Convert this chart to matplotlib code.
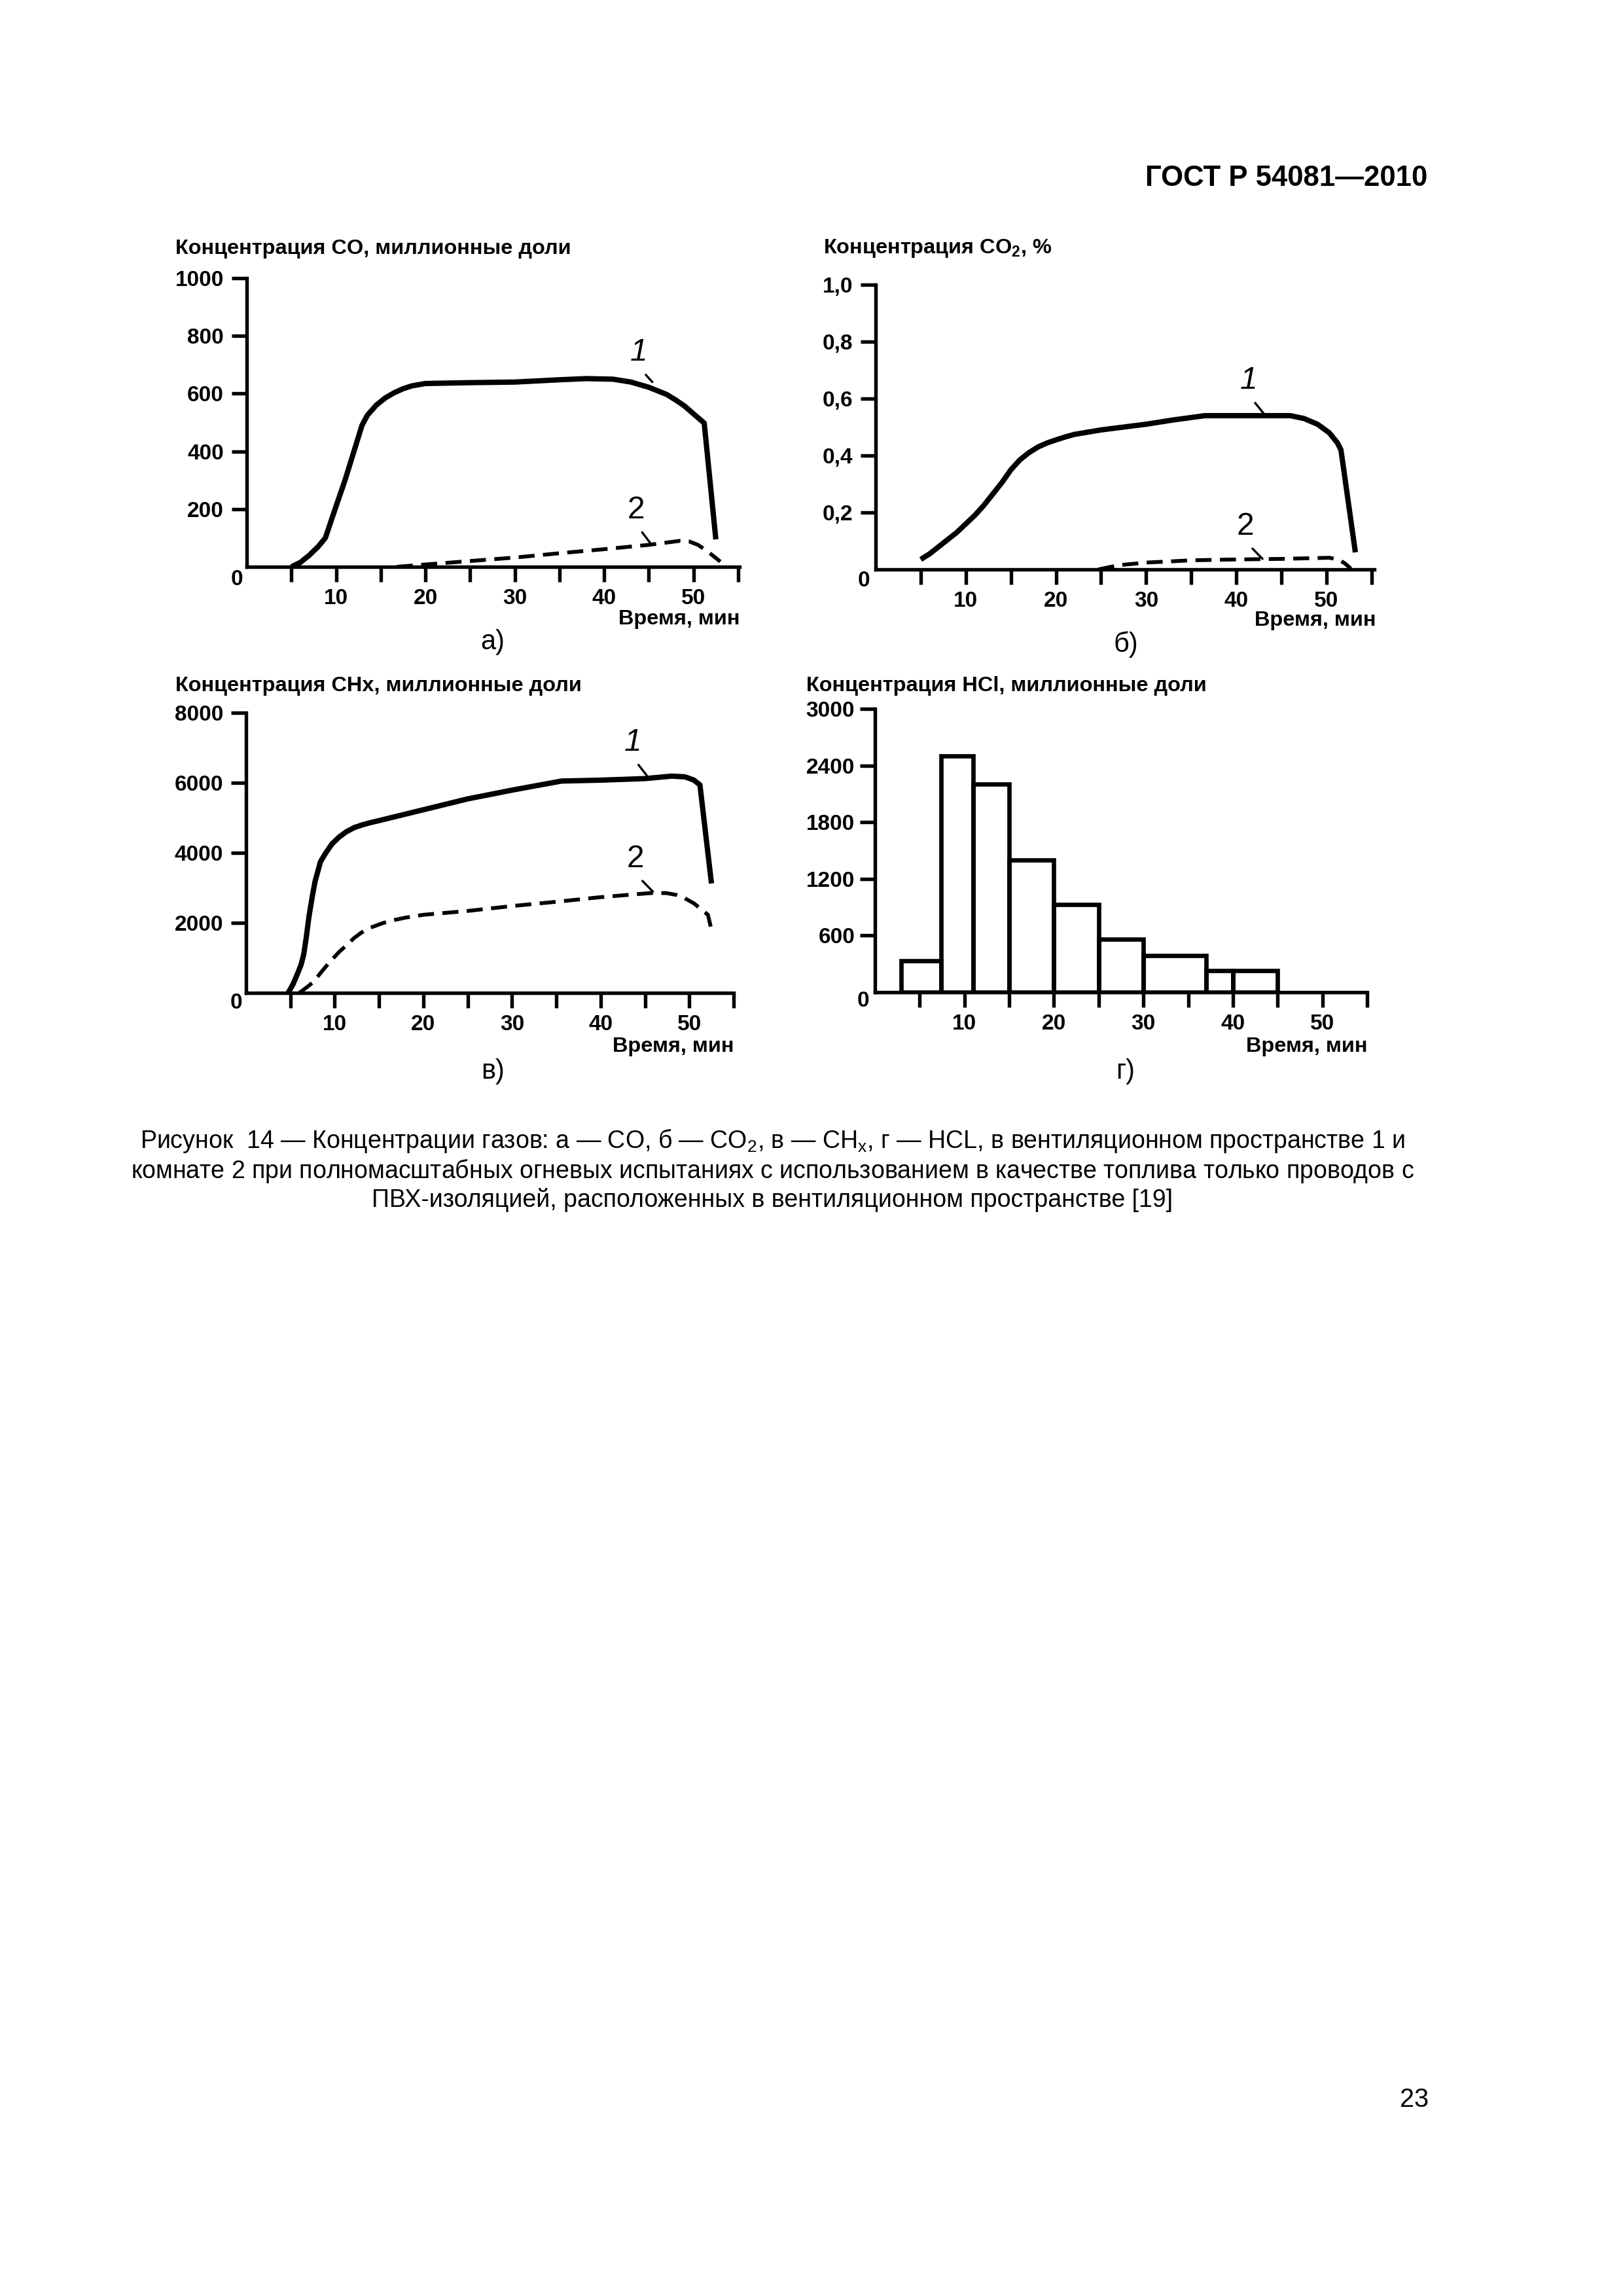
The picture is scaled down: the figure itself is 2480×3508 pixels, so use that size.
import matplotlib
matplotlib.use("Agg")
import matplotlib.pyplot as plt

plt.rcParams['font.family'] = ['Liberation Sans', 'DejaVu Sans']
plt.rcParams['mathtext.fontset'] = 'custom'
plt.rcParams['mathtext.rm'] = 'Liberation Sans'
plt.rcParams['mathtext.it'] = 'Liberation Sans:italic'
plt.rcParams['mathtext.bf'] = 'Liberation Sans:bold'

# --- data ---
x_ticks = [5, 10, 15, 20, 25, 30, 35, 40, 45, 50, 55]
x_tick_labels = ['', '10', '', '20', '', '30', '', '40', '', '50', '']

# a) CO, ppm
co_t1 = [5, 6, 7, 8, 8.8, 10, 11, 12, 12.9, 13.5, 14.5, 15.5, 16.5, 17.5, 18.5, 20, 25, 30,
         35, 38, 41, 43, 45, 47, 48, 49, 50, 51.2, 52.5]
co_v1 = [0, 15, 40, 70, 100, 210, 300, 400, 490, 525, 560, 585, 603, 617, 627, 635, 638, 640,
         648, 652, 650, 640, 622, 597, 578, 557, 530, 498, 95]
co_t2 = [16.8, 20, 25, 30, 35, 40, 45, 48.5, 49.5, 50.5, 51.5, 53]
co_v2 = [0, 8, 20, 32, 47, 61, 76, 90, 88, 76, 55, 18]
co_yticks = [200, 400, 600, 800, 1000]
co_ylabels = ['200', '400', '600', '800', '1000']

# b) CO2, %
co2_t1 = [5, 6, 7, 8, 9, 10, 11, 12, 13, 14, 15, 16, 17, 18, 19, 20, 21, 22, 25, 30, 33,
          36.5, 46, 47.5, 49, 50.3, 51.2, 51.6, 53.2]
co2_v1 = [0.035, 0.055, 0.08, 0.105, 0.13, 0.16, 0.19, 0.225, 0.265, 0.305, 0.35, 0.385,
          0.41, 0.43, 0.444, 0.455, 0.465, 0.474, 0.49, 0.51, 0.525, 0.54, 0.54, 0.53, 0.51,
          0.48, 0.445, 0.42, 0.06]
co2_t2 = [24.7, 27, 30, 35, 40, 45, 49, 50.3, 51.3, 52, 52.7]
co2_v2 = [0, 0.015, 0.024, 0.032, 0.035, 0.037, 0.04, 0.041, 0.035, 0.022, 0.003]
co2_yticks = [0.2, 0.4, 0.6, 0.8, 1.0]
co2_ylabels = ['0,2', '0,4', '0,6', '0,8', '1,0']

# в) CHx, ppm
chx_t1 = [4.75, 5.3, 5.8, 6.2, 6.5, 6.8, 7.1, 7.5, 7.8, 8.4, 9.0, 9.7, 10.5, 11.3, 12.2, 13,
          14, 15, 20, 25, 30, 33, 35.6, 40, 45, 48, 49.5, 50.5, 51.2, 52.5]
chx_v1 = [0, 250, 546, 800, 1093, 1600, 2187, 2800, 3200, 3750, 4000, 4257, 4450, 4600, 4720,
          4790, 4860, 4920, 5230, 5540, 5790, 5930, 6050, 6075, 6120, 6190, 6170, 6080, 5940, 3125]
chx_t2 = [6.0, 6.8, 7.6, 8.5, 9.5, 10.5, 11.5, 12.2, 13, 14, 15.4, 16.5, 18, 20, 25, 30, 35.6,
          40, 45.6, 47.4, 48.5, 49.5, 50.5, 51.2, 52.1, 52.5]
chx_v2 = [0, 150, 312, 600, 900, 1170, 1400, 1570, 1720, 1860, 1990, 2070, 2150, 2230, 2340,
          2480, 2617, 2734, 2850, 2850, 2800, 2700, 2560, 2420, 2230, 1800]
chx_yticks = [2000, 4000, 6000, 8000]
chx_ylabels = ['2000', '4000', '6000', '8000']

# г) HCl, ppm (histogram)
hcl_edges = [2.9, 7.4, 11, 15, 20, 25, 30, 37, 40, 45]
hcl_values = [330, 2500, 2200, 1400, 930, 560, 390, 230, 230]
hcl_yticks = [600, 1200, 1800, 2400, 3000]
hcl_ylabels = ['600', '1200', '1800', '2400', '3000']

W, H = 2480, 3508
fig = plt.figure(figsize=(W / 300, H / 300), dpi=300)


def rect(l, t, r, b):
    return [l / W, 1 - b / H, (r - l) / W, (b - t) / H]


def ftext(x, y, s, **kw):
    fig.text(x / W, 1 - y / H, s, **kw)


def style(ax, xmax, ymax, yticks, ylabels, ypad):
    ax.set_xlim(0, xmax)
    ax.set_ylim(0, ymax)
    ax.spines['top'].set_visible(False)
    ax.spines['right'].set_visible(False)
    ax.spines['left'].set_linewidth(1.3)
    ax.spines['bottom'].set_linewidth(1.3)
    ax.set_xticks(x_ticks)
    ax.set_xticklabels(x_tick_labels, fontweight='bold')
    ax.set_yticks(yticks)
    ax.set_yticklabels(ylabels, fontweight='bold')
    ax.tick_params(axis='x', direction='out', length=5.5, width=1.3, pad=2.5, labelsize=8)
    ax.tick_params(axis='y', direction='out', length=5.5, width=1.3, pad=ypad, labelsize=8)
    ax.patch.set_alpha(0)


def label(ax, s, txy, tip, italic):
    ax.annotate(s, xy=tip, xytext=txy, ha='center', va='center', fontsize=11.5,
                style='italic' if italic else 'normal',
                arrowprops=dict(arrowstyle='-', lw=0.8, color='black',
                                relpos=(0.5, 0.0), shrinkA=1, shrinkB=0))


solid = dict(color='black', lw=1.95, solid_capstyle='butt', solid_joinstyle='round')
dashed = dict(color='black', lw=1.4, ls=(0, (4.2, 2.2)), dash_capstyle='butt')

# a)
ax = fig.add_axes(rect(377, 425, 1130, 866))
style(ax, 55.15, 1000, co_yticks, co_ylabels, 2.9)
ax.plot(co_t1, co_v1, **solid)
ax.plot(co_t2, co_v2, **dashed)
label(ax, '1', (43.9, 742), (45.4, 640), True)
label(ax, '2', (43.6, 197), (45.2, 81), False)

# б)
ax = fig.add_axes(rect(1338, 435, 2100, 870))
style(ax, 55.3, 1.0, co2_yticks, co2_ylabels, 2.9)
ax.plot(co2_t1, co2_v1, **solid)
ax.plot(co2_t2, co2_v2, **dashed)
label(ax, '1', (41.4, 0.663), (43.1, 0.545), True)
label(ax, '2', (41.0, 0.151), (42.9, 0.037), False)

# в)
ax = fig.add_axes(rect(376, 1089, 1121, 1517))
style(ax, 55.0, 8000, chx_yticks, chx_ylabels, 2.9)
ax.plot(chx_t1, chx_v1, **solid)
ax.plot(chx_t2, chx_v2, **dashed)
label(ax, '1', (43.6, 7150), (45.2, 6210), True)
label(ax, '2', (43.9, 3830), (45.9, 2890), False)

# г)
ax = fig.add_axes(rect(1337, 1083, 2089, 1516))
style(ax, 55.0, 3000, hcl_yticks, hcl_ylabels, 1.9)
widths = [hcl_edges[i + 1] - hcl_edges[i] for i in range(len(hcl_values))]
ax.bar(hcl_edges[:-1], hcl_values, width=widths, align='edge', fill=False,
       edgecolor='black', linewidth=1.6, joinstyle='miter')

# axis titles, units, panel letters
title_kw = dict(fontsize=7.8, fontweight='bold', ha='left', va='center')
ftext(268, 380, 'Концентрация CO, миллионные доли', **title_kw)
ftext(1258, 380, 'Концентрация CO$_\\mathbf{2}$, %', **title_kw)
ftext(268, 1048, 'Концентрация CHx, миллионные доли', **title_kw)
ftext(1232, 1048, 'Концентрация HCl, миллионные доли', **title_kw)

unit_kw = dict(fontsize=7.8, fontweight='bold', ha='right', va='center')
ftext(1130, 946, 'Время, мин', **unit_kw)
ftext(2102, 948, 'Время, мин', **unit_kw)
ftext(1121, 1599, 'Время, мин', **unit_kw)
ftext(2089, 1599, 'Время, мин', **unit_kw)

sub_kw = dict(fontsize=10, ha='center', va='center')
ftext(753, 981, 'а)', **sub_kw)
ftext(1720, 985, 'б)', **sub_kw)
ftext(753, 1637, 'в)', **sub_kw)
ftext(1720, 1637, 'г)', **sub_kw)

zero_kw = dict(fontsize=8, fontweight='bold', ha='center', va='center')
ftext(362, 886, '0', **zero_kw)
ftext(1320, 888, '0', **zero_kw)
ftext(361, 1533, '0', **zero_kw)
ftext(1319, 1529, '0', **zero_kw)

# page header, caption, page number
ftext(2181, 272, 'ГОСТ Р 54081—2010', fontsize=10.5, fontweight='bold', ha='right', va='center')
cap_kw = dict(fontsize=9, ha='center', va='center')
ftext(1180, 1743, 'Рисунок  14 — Концентрации газов: а — CO, б — CO$_2$, в — CH$_\\mathrm{x}$, '
      'г — HCL, в вентиляционном пространстве $\\mathit{1}$ и', **cap_kw)
ftext(1180, 1789, 'комнате $\\mathit{2}$ при полномасштабных огневых испытаниях с '
      'использованием в качестве топлива только проводов с', **cap_kw)
ftext(1180, 1834, 'ПВХ-изоляцией, расположенных в вентиляционном пространстве [19]', **cap_kw)
ftext(2183, 3208, '23', fontsize=9.5, ha='right', va='center')

fig.savefig('out.png', dpi=300)
